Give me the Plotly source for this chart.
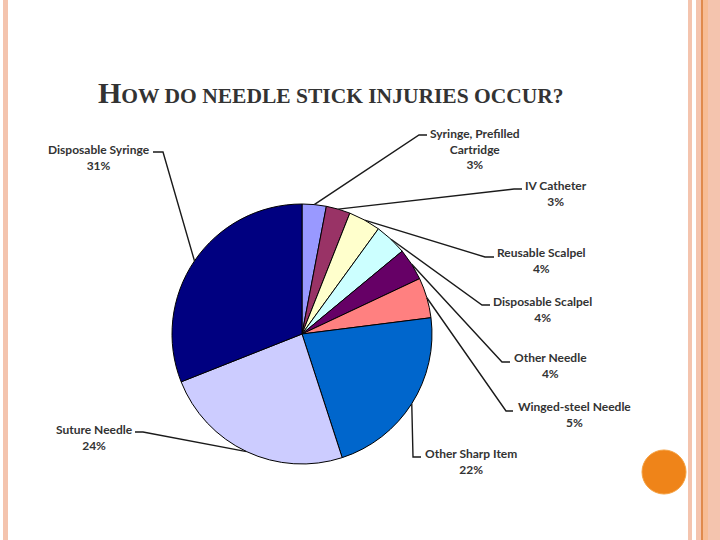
import math
import plotly.graph_objects as go

# ---------------- data ----------------
categories = ["Syringe, Prefilled Cartridge", "IV Catheter", "Reusable Scalpel",
              "Disposable Scalpel", "Other Needle", "Winged-steel Needle",
              "Other Sharp Item", "Suture Needle", "Disposable Syringe"]
label_lines = [["Syringe, Prefilled", "Cartridge"], ["IV Catheter"], ["Reusable Scalpel"],
               ["Disposable Scalpel"], ["Other Needle"], ["Winged-steel Needle"],
               ["Other Sharp Item"], ["Suture Needle"], ["Disposable Syringe"]]
values = [3, 3, 4, 4, 4, 5, 22, 24, 31]
title_text = "How do needle stick injuries occur?"

# ---------------- style / layout ----------------
colors = ["#9999FF", "#993366", "#FFFFCC", "#CCFFFF", "#660066", "#FF8080",
          "#0066CC", "#CCCCFF", "#000080"]
W, H = 720, 540
CX, CY, R = 302, 334, 130          # pie centre / radius in pixels
# label block centre (x, y) and leader elbow (x, y) + tick end x, in pixels
label_pos = [(475, 148.5), (556, 193.5), (541, 260.5), (542, 309.5), (550, 365.5),
             (574, 414.5), (471, 461.5), (94, 437.5), (99, 157.5)]
elbows = [(419, 135, 427), (514, 189, 522), (485, 257, 494), (482, 305, 490),
          (502, 362, 510), (506, 411, 513), (413, 457, 421), (143, 432, 135),
          (163, 152, 153)]
FONT = "Lato"
TXT = "#333333"


def px(x):
    return x / W


def py(y):
    return 1 - y / H


fig = go.Figure()
fig.add_trace(go.Pie(
    labels=categories, values=values, sort=False, direction="clockwise", rotation=0,
    marker=dict(colors=colors, line=dict(color="#000000", width=1)),
    textinfo="none", showlegend=False,
    domain=dict(x=[px(CX - R), px(CX + R)], y=[py(CY + R), py(CY - R)]),
))

shapes = []
annotations = []
total = sum(values)
cum = 0
for i, v in enumerate(values):
    mid = (cum + v / 2) / total * 2 * math.pi
    cum += v
    ex = CX + R * math.sin(mid)
    ey = CY - R * math.cos(mid)
    bx, by, tx = elbows[i]
    shapes.append(dict(type="path", xref="paper", yref="paper",
                       path=f"M {px(ex)} {py(ey)} L {px(bx)} {py(by)} L {px(tx)} {py(by)}",
                       line=dict(color="#1a1a1a", width=1.4)))
    pct = f"{round(v / total * 100)}%"
    lx, ly = label_pos[i]
    annotations.append(dict(xref="paper", yref="paper", x=px(lx), y=py(ly),
                            xanchor="center", yanchor="middle", showarrow=False,
                            text="<br>".join(label_lines[i] + [pct]),
                            font=dict(family=FONT, size=12, color=TXT, weight="bold")))

# slide decoration
deco = "#F4C4AE"
shapes += [
    dict(type="rect", xref="paper", yref="paper", x0=px(3), x1=px(8), y0=0, y1=1,
         fillcolor=deco, line_width=0, layer="below"),
    dict(type="rect", xref="paper", yref="paper", x0=px(688), x1=px(692), y0=0, y1=1,
         fillcolor=deco, line_width=0, layer="below"),
    dict(type="rect", xref="paper", yref="paper", x0=px(696), x1=px(720), y0=0, y1=1,
         fillcolor=deco, line_width=0, layer="below"),
    dict(type="rect", xref="paper", yref="paper", x0=px(703), x1=px(708), y0=0, y1=1,
         fillcolor="#F7BC94", line_width=0, layer="below"),
    dict(type="rect", xref="paper", yref="paper", x0=px(701), x1=px(703), y0=0, y1=1,
         fillcolor="#E08A4C", line_width=0, layer="below"),
    dict(type="circle", xref="paper", yref="paper", x0=px(642), x1=px(686),
         y0=py(494), y1=py(450), fillcolor="#EF8419", line=dict(color="#F5A040", width=1)),
]

# small-caps title
words = title_text.upper()
title_html = (f"<span style='font-size:30px'>{words[0]}</span>"
              f"<span style='font-size:21.5px'>{words[1:]}</span>")
annotations.append(dict(xref="paper", yref="paper", x=px(331), y=py(92),
                        xanchor="center", yanchor="middle", showarrow=False,
                        text=title_html,
                        font=dict(family="Liberation Serif", color="#333333", weight="bold")))

fig.update_layout(
    width=W, height=H, margin=dict(l=0, r=0, t=0, b=0),
    paper_bgcolor="white", plot_bgcolor="white",
    shapes=shapes, annotations=annotations,
)
fig.write_html("out.html", config={"displayModeBar": False},
               post_script="document.body.style.margin='0';document.body.style.overflow='hidden';")
